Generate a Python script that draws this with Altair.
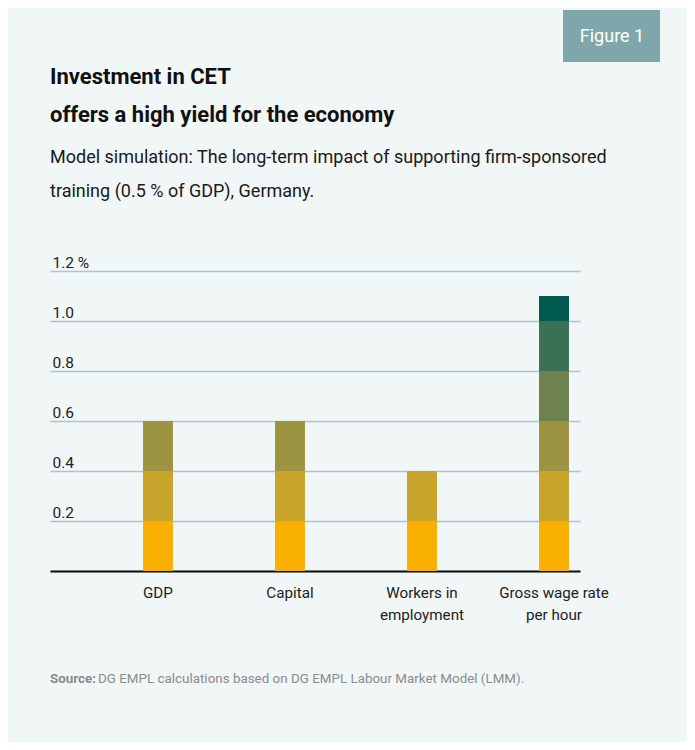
import altair as alt
import pandas as pd

categories = ["GDP", "Capital", "Workers in employment", "Gross wage rate per hour"]
totals = [0.6, 0.6, 0.4, 1.1]
band_edges = [0.0, 0.2, 0.4, 0.6, 0.8, 1.0, 1.2]
band_colors = ["#f9b000", "#c9a42a", "#9d9442", "#6d824f", "#3a7055", "#005a4e"]
y_ticks = [0, 0.2, 0.4, 0.6, 0.8, 1.0, 1.2]

rows = []
for cat, tot in zip(categories, totals):
    for i in range(len(band_edges) - 1):
        lo, hi = band_edges[i], band_edges[i + 1]
        if tot > lo + 1e-9:
            rows.append({"cat": cat, "band": i, "lo": lo, "hi": min(hi, tot)})
df = pd.DataFrame(rows)

FONT = "Roboto, sans-serif"

label_expr = (
    "datum.label == 'Workers in employment' ? ['Workers in', 'employment'] : "
    "datum.label == 'Gross wage rate per hour' ? ['Gross wage rate', 'per hour'] : datum.label"
)

bars = alt.Chart(df).mark_bar().encode(
    x=alt.X(
        "cat:N",
        sort=categories,
        title=None,
        scale=alt.Scale(paddingInner=0.773, paddingOuter=0.394, align=0.894),
        axis=alt.Axis(
            labelAngle=0, ticks=False, domainColor="#111111", domainWidth=2,
            labelPadding=14, labelFontSize=15.2, labelLineHeight=22, labelColor="#222222",
            labelFont=FONT, labelExpr=label_expr, grid=False,
        ),
    ),
    y=alt.Y(
        "lo:Q",
        title=None,
        scale=alt.Scale(domain=[0, 1.2], nice=False),
        axis=alt.Axis(
            values=y_ticks, ticks=False, tickSize=0, domain=False,
            labelAlign="left", labelBaseline="alphabetic", labelOffset=-4, labelPadding=-2,
            labelFontSize=15.5, labelColor="#222222", labelFont=FONT,
            gridColor="#a9c6ca", gridWidth=1.5,
            labelExpr="datum.value == 0 ? '' : datum.value >= 1.19 ? format(datum.value, '.1f') + ' %' : format(datum.value, '.1f')",
        ),
    ),
    y2="hi:Q",
    color=alt.Color("band:O", scale=alt.Scale(domain=list(range(6)), range=band_colors), legend=None),
)

fig_df = pd.DataFrame({"t": ["Figure 1"]})
fig_box = alt.Chart(fig_df).mark_rect(color="#7fa7ab").encode(
    x=alt.value(513), x2=alt.value(610), y=alt.value(-261), y2=alt.value(-209)
)
fig_txt = alt.Chart(fig_df).mark_text(
    color="white", fontSize=18, font=FONT, align="center", baseline="middle"
).encode(x=alt.value(562), y=alt.value(-234), text="t:N")

src_df = pd.DataFrame({"a": ["Source:"], "b": ["DG EMPL calculations based on DG EMPL Labour Market Model (LMM)."]})
src_a = alt.Chart(src_df).mark_text(
    color="#8c8c8c", fontSize=13.4, font=FONT, fontWeight="bold", align="left", baseline="middle"
).encode(x=alt.value(0), y=alt.value(408), text="a:N")
src_b = alt.Chart(src_df).mark_text(
    color="#8c8c8c", fontSize=13.4, font=FONT, align="left", baseline="middle"
).encode(x=alt.value(48), y=alt.value(408), text="b:N")

chart = alt.layer(bars, fig_box, fig_txt, src_a, src_b).properties(
    width=530,
    height=300,
    autosize=alt.AutoSizeParams(type="none"),
    padding={"left": 42, "top": 263, "right": 107, "bottom": 171},
    title=alt.TitleParams(
        text=["Investment in CET", "offers a high yield for the economy"],
        subtitle=["Model simulation: The long-term impact of supporting firm-sponsored",
                  "training (0.5 % of GDP), Germany."],
        anchor="start", frame="group", font=FONT, fontSize=22, fontWeight="bold",
        lineHeight=38, color="#111111",
        subtitleFont=FONT, subtitleFontSize=18, subtitleLineHeight=34, subtitleColor="#1a1a1a",
        subtitlePadding=22, offset=0, dy=192,
    ),
).configure(background="#f1f6f6").configure_view(stroke=None)

chart.save("out.html", embed_options={"renderer": "svg", "actions": False})
